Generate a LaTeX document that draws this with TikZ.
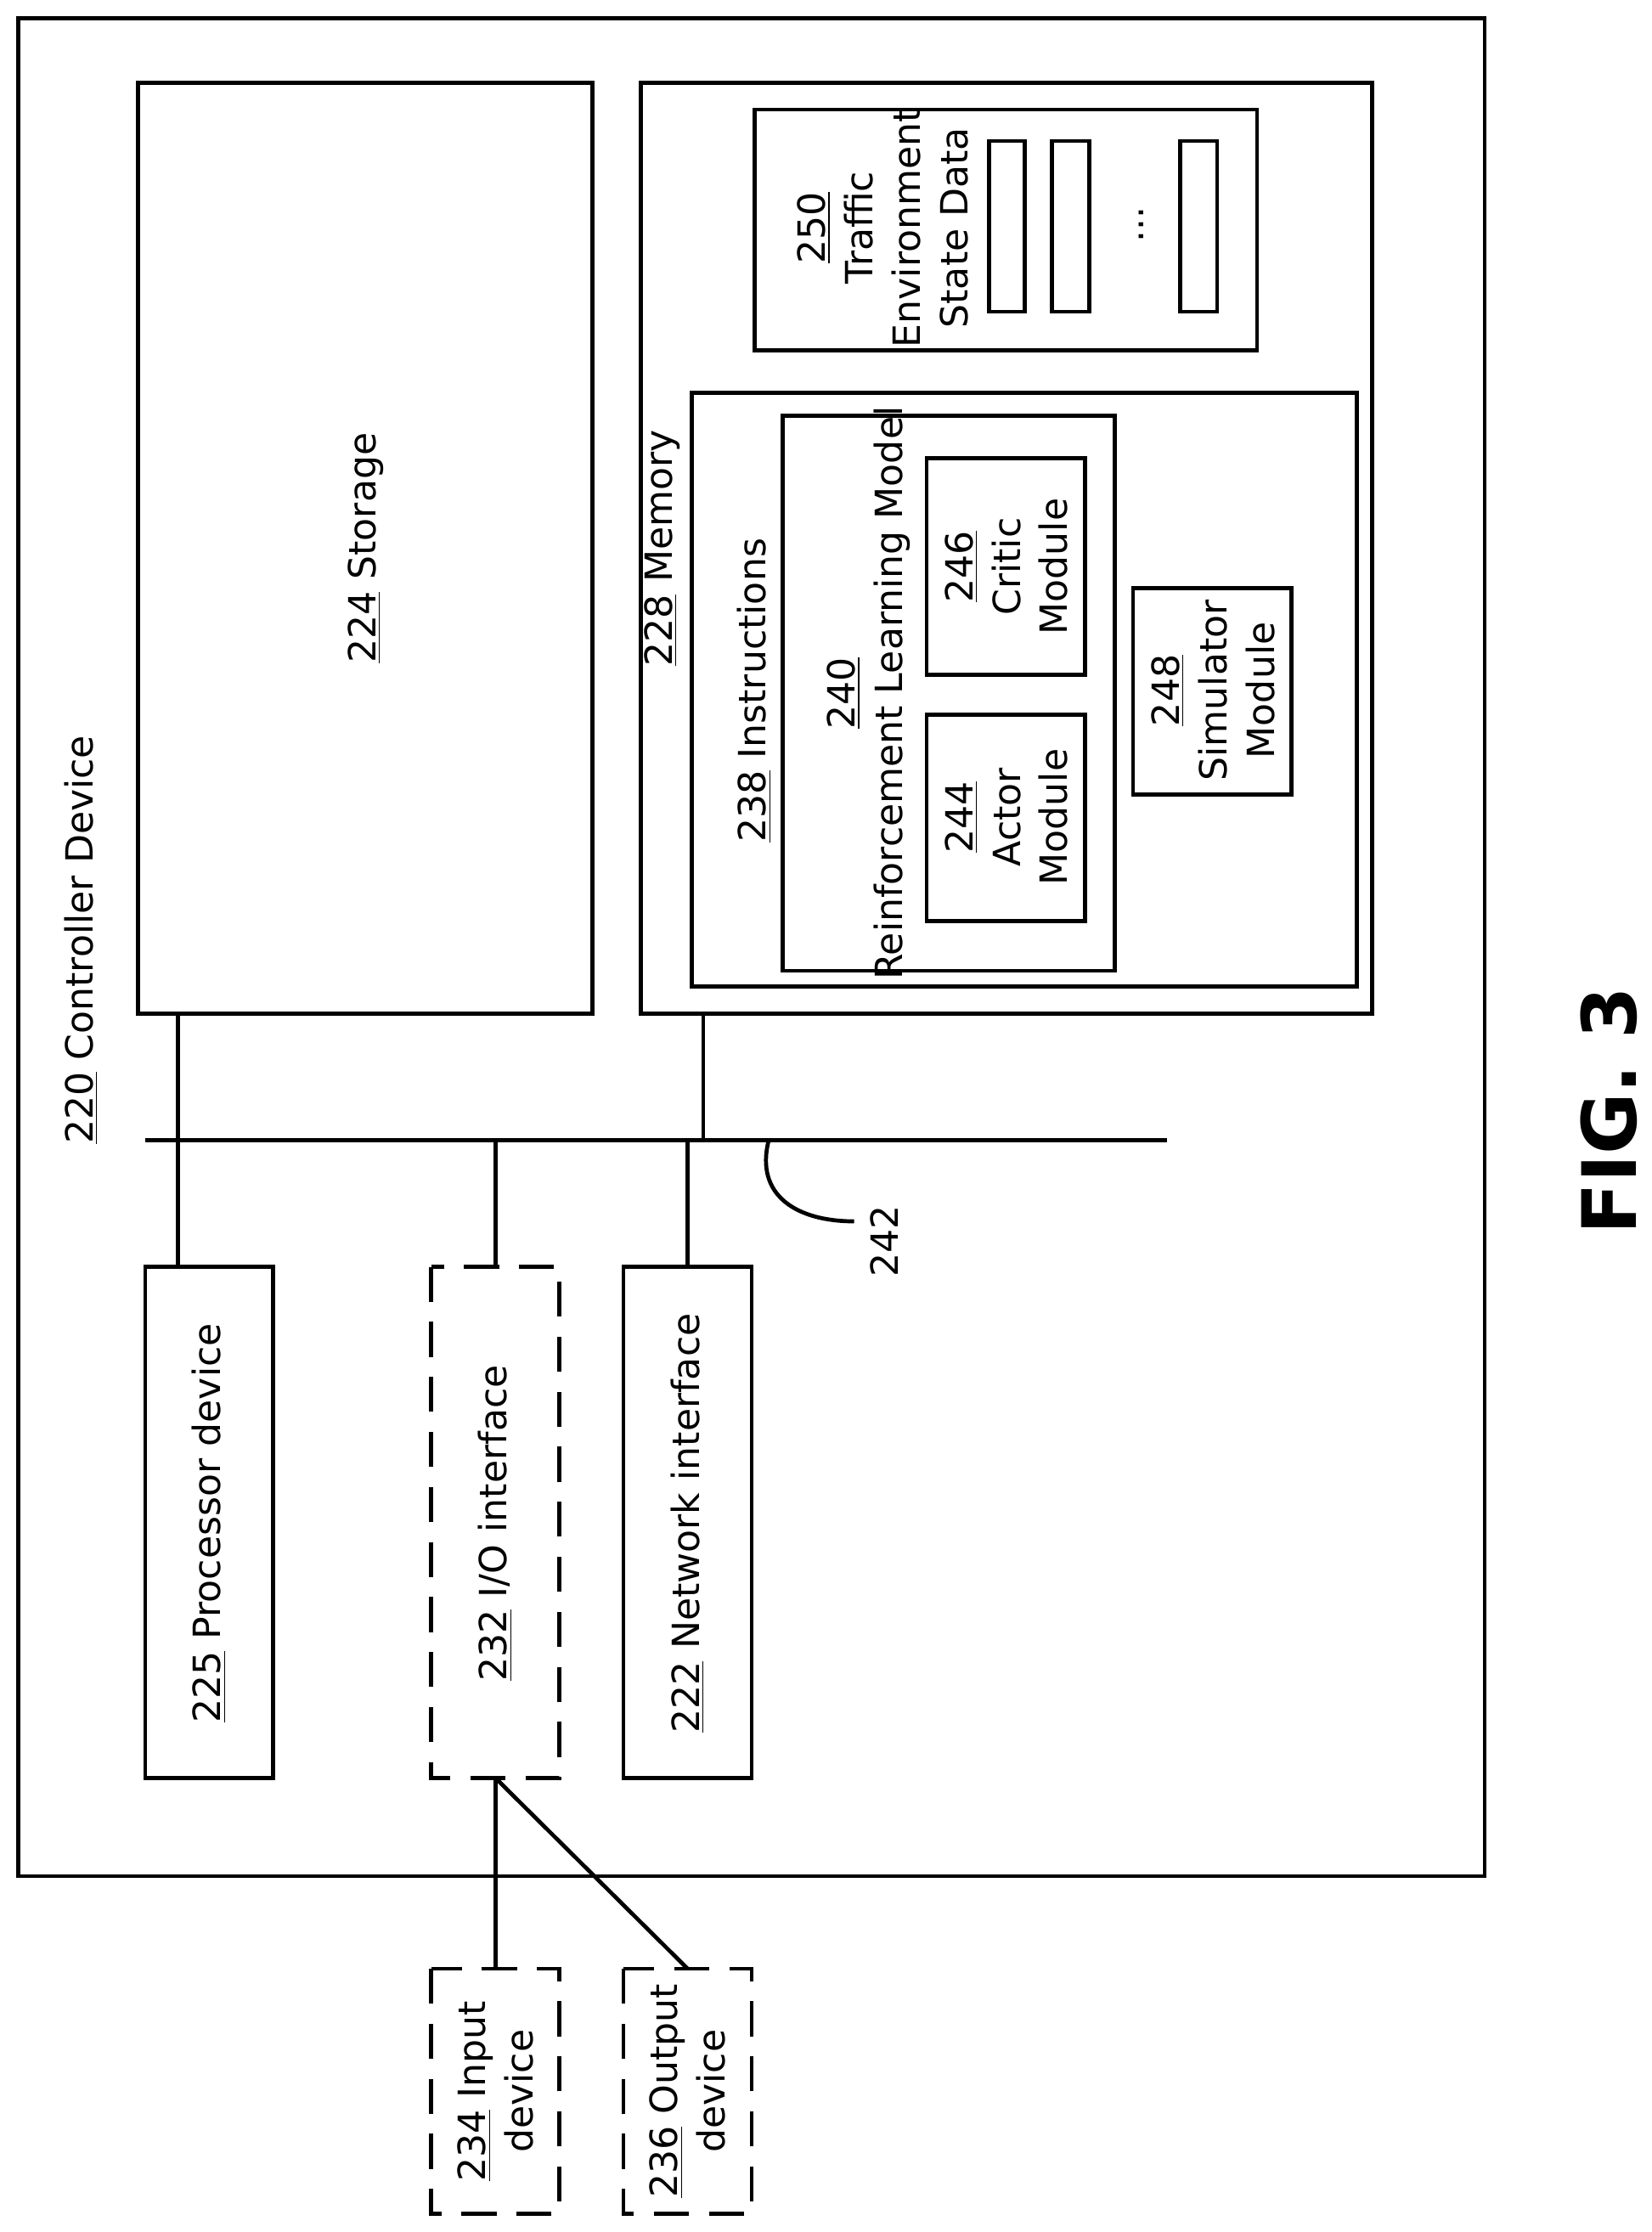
\documentclass[tikz,border=0pt]{standalone}
\usepackage{fontspec}
\setmainfont{DejaVu Sans}
\begin{document}
\begin{tikzpicture}[x=0.02cm,y=-0.02cm,
  box/.style={draw,line width=1.6pt},
  dbox/.style={draw,line width=1.6pt,dash pattern=on 14pt off 8pt},
  ln/.style={line width=1.6pt},
  txt/.style={rotate=90,font=\fontsize{15}{19}\selectfont,align=center}]
\useasboundingbox (0,0) rectangle (1160,1568);
\draw[box] (13,13) rectangle (1043,1318);
\node[txt] (t220) at (57,660) {\underline{220} Controller Device};
% storage
\draw[box] (97,58) rectangle (416,712);
\node[txt] (t224) at (257,385) {\underline{224} Storage};
% memory
\draw[box] (450,58) rectangle (964,712);
\node[txt] (t228) at (465,385) {\underline{228} Memory};
\draw[box] (530,77) rectangle (883,246);
\node[txt] (t250) at (620,160) {\underline{250}\\Traffic\\Environment\\State Data};
\draw[box] (695,99) rectangle (720,219);
\draw[box] (739,99) rectangle (765,219);
\draw[box] (829,99) rectangle (855,219);
\node[txt] (dots) at (802,158) {...};
\draw[box] (486,276) rectangle (953,693);
\node[txt] (t238) at (530,485) {\underline{238} Instructions};
\draw[box] (550,292) rectangle (783,682);
\node[txt] (t240) at (610,487) {\underline{240}\\Reinforcement Learning Model};
\draw[box] (651,502) rectangle (762,647);
\node[txt] (t244) at (707,574) {\underline{244}\\Actor\\Module};
\draw[box] (651,322) rectangle (762,474);
\node[txt] (t246) at (707,398) {\underline{246}\\Critic\\Module};
\draw[box] (796,413) rectangle (907,558);
\node[txt] (t248) at (852,485) {\underline{248}\\Simulator\\Module};
% bus
\coordinate (b1) at (102,801); \coordinate (b2) at (820,801);
\draw[ln] (b1) -- (b2);
\draw[ln] (125,712) -- (125,890);
\draw[ln] (348,801) -- (348,890);
\draw[ln] (483,801) -- (483,890);
\draw[ln] (494,712) -- (494,801);
\draw[ln] (540,801) .. controls (530,840) and (560,858) .. (600,858);
\node[txt] (t242) at (621,872) {242};
% bottom boxes
\draw[box] (102,890) rectangle (192,1249);
\node[txt] (t225) at (147,1070) {\underline{225} Processor device};
\draw[dbox] (303,890) rectangle (393,1249);
\node[txt] (t232) at (348,1070) {\underline{232} I/O interface};
\draw[box] (438,890) rectangle (528,1249);
\node[txt] (t222) at (483,1070) {\underline{222} Network interface};
\draw[dbox] (303,1383) rectangle (393,1555);
\node[txt] (t234) at (348,1469) {\underline{234} Input\\device};
\draw[dbox] (438,1383) rectangle (528,1555);
\node[txt] (t236) at (483,1469) {\underline{236} Output\\device};
\draw[ln] (348,1249) -- (348,1383);
\draw[ln] (348,1249) -- (483,1383);
\node[rotate=90,font=\fontsize{30}{36}\selectfont\bfseries] (fig) at (1130,780) {FIG. 3};
\end{tikzpicture}
\end{document}
